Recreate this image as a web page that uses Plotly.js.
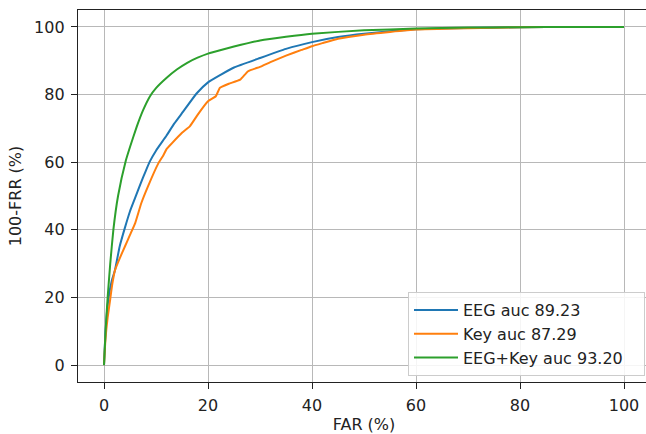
<!DOCTYPE html>
<html>
<head>
<meta charset="utf-8">
<script src="https://cdn.plot.ly/plotly-3.0.1.min.js"></script>
<style>
html,body{margin:0;padding:0;overflow:hidden;background:#fff;}
#chart{width:660px;height:434px;}
</style>
</head>
<body>
<div id="chart"></div>
<script>
// Series names
var seriesNames = ["EEG auc 89.23", "Key auc 87.29", "EEG+Key auc 93.20"];

// EEG ROC (FAR %, 100-FRR %)
var eegFar = [0, 0.3, 0.8, 1.5, 2.1, 3, 4, 5, 6, 7, 8, 8.85, 10, 12, 13.5, 15.25, 17.8, 20, 22.5, 25, 30, 35, 40, 45, 50, 55, 60, 70, 80, 90, 100];
var eegTar = [0, 10, 19, 25, 28, 35, 40.5, 45.5, 49.5, 53.5, 57.3, 60.3, 63.4, 67.8, 71.4, 75, 80.3, 83.6, 85.9, 88, 90.8, 93.5, 95.5, 97, 98, 98.7, 99.3, 99.7, 99.9, 100, 100];

// Key ROC
var keyFar = [0, 0.3, 0.7, 1.15, 1.6, 2.1, 3, 4, 5, 6, 7.2, 8.5, 10.4, 11.4, 12, 13, 15, 16.5, 18, 20, 21.5, 22.3, 24, 26.2, 27.7, 30, 32, 35, 38, 40, 42, 45, 50, 55, 60, 70, 80, 90, 100];
var keyTar = [0, 8, 14, 19, 24, 28, 31.5, 35, 38.5, 42, 48, 53, 59.5, 62, 63.8, 65.5, 68.7, 70.6, 74, 78, 79.5, 82, 83.2, 84.4, 86.9, 88.2, 89.6, 91.5, 93.2, 94.3, 95.2, 96.5, 97.7, 98.5, 99.2, 99.6, 99.9, 100, 100];

// EEG+Key ROC
var fusFar = [0, 0.3, 0.7, 1.2, 1.8, 2.7, 4.2, 5, 6.3, 7.5, 8.85, 10, 12, 14, 16, 18, 20, 22.5, 25, 27.7, 30, 35, 40, 50, 60, 70, 80, 90, 100];
var fusTar = [0, 10, 20, 30, 40, 50, 60.5, 64.5, 70.5, 75.3, 79.5, 81.9, 84.9, 87.4, 89.4, 90.9, 92.1, 93.2, 94.2, 95.2, 96, 97.1, 98, 99, 99.5, 99.8, 99.9, 100, 100];

var xTicks = [0, 20, 40, 60, 80, 100];
var yTicks = [0, 20, 40, 60, 80, 100];

var colors = ["#1f77b4", "#ff7f0e", "#2ca02c"];
var xs = [eegFar, keyFar, fusFar];
var ys = [eegTar, keyTar, fusTar];

var traces = xs.map(function(x, i){
  return {
    x: x, y: ys[i], type: "scatter", mode: "lines",
    name: seriesNames[i] + (i === 2 ? "\u00a0\u00a0\u00a0" : ""),
    legendgroup: "g" + i,
    line: {color: colors[i], width: 2, shape: "spline", smoothing: 0.4}
  };
});

var font = {family: "DejaVu Sans", size: 16, color: "#222"};

var axisCommon = {
  showgrid: true, gridcolor: "#b8b8b8", gridwidth: 1,
  zeroline: false, showline: true, mirror: true,
  linecolor: "#222", linewidth: 1.2,
  ticks: "outside", ticklen: 6, tickwidth: 1, tickcolor: "#222",
  tickfont: font, ticklabelstandoff: 3
};

var layout = {
  width: 660, height: 434,
  margin: {l: 78, r: 10, t: 10, b: 52},
  paper_bgcolor: "#fff", plot_bgcolor: "#fff",
  font: font,
  showlegend: true,
  xaxis: Object.assign({}, axisCommon, {
    range: [-5, 105], tickvals: xTicks, ticktext: xTicks.map(String),
    title: {text: "FAR (%)", font: font, standoff: 4}
  }),
  yaxis: Object.assign({}, axisCommon, {
    range: [-5, 105], tickvals: yTicks, ticktext: yTicks.map(String),
    title: {text: "100-FRR (%)", font: font, standoff: 8}
  }),
  legend: {
    font: font,
    bgcolor: "rgba(255,255,255,0.85)",
    bordercolor: "#cccccc", borderwidth: 1,
    tracegroupgap: 0,
    itemwidth: 44
  }
};
// legend position in paper fraction: left edge at 408px, bottom at ~376px
layout.legend.x = (408 - 78) / 572;
layout.legend.y = (382 - 376) / 372;
layout.legend.xanchor = "left";
layout.legend.yanchor = "bottom";

Plotly.newPlot("chart", traces, layout, {displayModeBar: false, staticPlot: true});
</script>
</body>
</html>
